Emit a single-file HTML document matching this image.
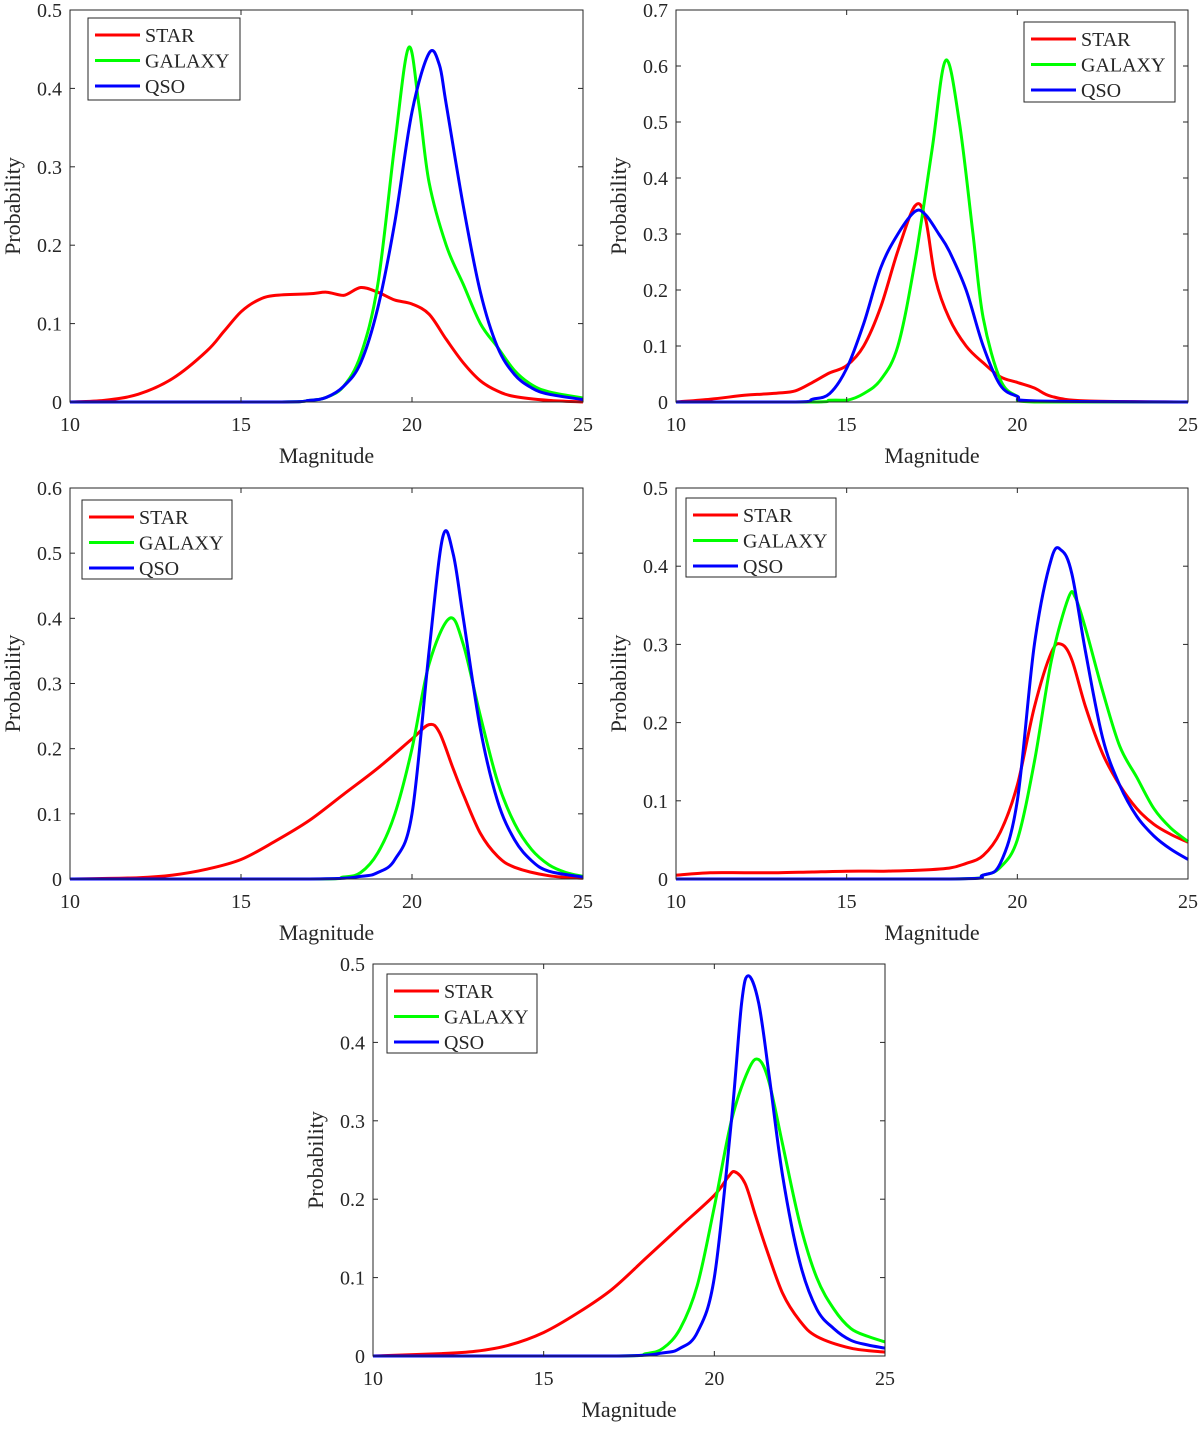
<!DOCTYPE html>
<html><head><meta charset="utf-8"><style>
body{margin:0;background:#fff}
svg text{font-family:"Liberation Serif",serif;fill:#262626}
</style></head><body>
<svg id="fig" width="1200" height="1426" viewBox="0 0 1200 1426" xmlns="http://www.w3.org/2000/svg"></svg>
<script>
// ---- data: magnitude (x) and probability (y) per series per panel ----
const xTicks=[10,15,20,25];
const p1StarX=[10,11,12,13,14,14.5,15,15.5,16,17,17.5,18,18.5,19,19.5,20,20.5,21,21.5,22,22.5,23,24,25];
const p1StarY=[0,0.002,0.01,0.03,0.065,0.09,0.115,0.13,0.136,0.138,0.14,0.136,0.146,0.14,0.13,0.125,0.112,0.08,0.05,0.027,0.014,0.007,0.002,0];
const p1GalX=[10,16,17,17.5,18,18.5,19,19.5,19.9,20.2,20.5,21,21.5,22,22.5,23,23.5,24,25];
const p1GalY=[0,0,0.002,0.006,0.02,0.06,0.15,0.33,0.452,0.38,0.28,0.2,0.15,0.1,0.07,0.04,0.022,0.013,0.005];
const p1QsoX=[10,16,17,17.5,18,18.5,19,19.5,20,20.5,20.8,21,21.5,22,22.5,23,23.5,24,25];
const p1QsoY=[0,0,0.002,0.006,0.02,0.05,0.12,0.23,0.37,0.445,0.43,0.38,0.25,0.14,0.07,0.035,0.018,0.01,0.003];

const p2StarX=[10,11,12,12.5,13,13.5,14,14.5,15,15.5,16,16.5,17,17.3,17.6,18,18.5,19,19.5,20,20.5,21,22,25];
const p2StarY=[0,0.005,0.012,0.014,0.016,0.02,0.035,0.052,0.065,0.1,0.17,0.27,0.35,0.33,0.22,0.15,0.1,0.07,0.045,0.035,0.025,0.01,0.002,0];
const p2GalX=[10,14,14.5,15,15.5,16,16.5,17,17.5,17.9,18.3,18.7,19,19.5,20,20.5,25];
const p2GalY=[0,0,0.003,0.003,0.015,0.04,0.1,0.25,0.45,0.61,0.5,0.3,0.15,0.04,0.01,0,0];
const p2QsoX=[10,13.5,14,14.5,15,15.5,16,16.5,17,17.3,17.7,18,18.5,19,19.5,20,20.5,25];
const p2QsoY=[0,0,0.005,0.015,0.06,0.14,0.24,0.3,0.34,0.335,0.3,0.27,0.2,0.1,0.03,0.01,0.002,0];

const p3StarX=[10,12,13,14,15,16,17,18,19,20,20.5,20.8,21.2,21.5,22,22.5,23,24,25];
const p3StarY=[0,0.002,0.006,0.015,0.03,0.058,0.09,0.13,0.17,0.215,0.237,0.225,0.17,0.13,0.07,0.035,0.018,0.005,0.001];
const p3GalX=[10,17,18,18.5,19,19.5,20,20.5,21.1,21.5,22,22.5,23,23.5,24,24.5,25];
const p3GalY=[0,0,0.003,0.01,0.04,0.1,0.2,0.33,0.4,0.36,0.25,0.15,0.085,0.045,0.022,0.01,0.004];
const p3QsoX=[10,17,18.5,19,19.5,20,20.5,20.9,21.2,21.5,22,22.5,23,23.5,24,25];
const p3QsoY=[0,0,0.004,0.01,0.03,0.1,0.35,0.525,0.5,0.4,0.23,0.12,0.06,0.028,0.012,0.003];

const p4StarX=[10,11,12,13,14,15,16,17,18,18.5,19,19.5,20,20.5,21,21.3,21.6,22,22.5,23,23.5,24,24.5,25];
const p4StarY=[0.005,0.008,0.008,0.008,0.009,0.01,0.01,0.011,0.014,0.02,0.03,0.06,0.12,0.22,0.29,0.3,0.28,0.22,0.16,0.12,0.09,0.07,0.057,0.047];
const p4GalX=[10,18,19,19.5,20,20.5,21,21.5,21.7,22,22.5,23,23.5,24,24.5,25];
const p4GalY=[0,0,0.005,0.015,0.05,0.15,0.28,0.36,0.36,0.32,0.24,0.17,0.13,0.09,0.065,0.048];
const p4QsoX=[10,18,19,19.5,20,20.5,21,21.3,21.6,22,22.5,23,23.5,24,24.5,25];
const p4QsoY=[0,0,0.005,0.02,0.1,0.3,0.41,0.42,0.39,0.29,0.18,0.12,0.08,0.055,0.038,0.025];

const p5StarX=[10,12,13,14,15,16,17,18,19,20,20.4,20.6,20.9,21.2,21.5,22,22.5,23,24,25];
const p5StarY=[0,0.003,0.006,0.014,0.03,0.055,0.085,0.125,0.165,0.205,0.228,0.235,0.22,0.18,0.14,0.08,0.045,0.025,0.01,0.005];
const p5GalX=[10,17,18,18.5,19,19.5,20,20.5,21,21.3,21.6,22,22.5,23,23.5,24,24.5,25];
const p5GalY=[0,0,0.003,0.01,0.035,0.09,0.19,0.3,0.365,0.378,0.35,0.27,0.17,0.1,0.06,0.035,0.025,0.018];
const p5QsoX=[10,17,18.5,19,19.5,20,20.5,20.8,21,21.3,21.6,22,22.5,23,23.5,24,24.5,25];
const p5QsoY=[0,0,0.004,0.01,0.03,0.1,0.3,0.45,0.485,0.45,0.36,0.23,0.12,0.06,0.035,0.02,0.014,0.01];

const seriesNames=["STAR","GALAXY","QSO"];
const seriesColors=["#ff0000","#00ff00","#0000ff"];

const panels=[
 {id:"panel-1",box:[70,10,583,402],yMax:0.5,yStep:0.1,leg:[88,18,152,82],s:[[p1StarX,p1StarY],[p1GalX,p1GalY],[p1QsoX,p1QsoY]]},
 {id:"panel-2",box:[676,10,1188,402],yMax:0.7,yStep:0.1,leg:[1024,22,151,80],s:[[p2StarX,p2StarY],[p2GalX,p2GalY],[p2QsoX,p2QsoY]]},
 {id:"panel-3",box:[70,488,583,879],yMax:0.6,yStep:0.1,leg:[82,500,150,79],s:[[p3StarX,p3StarY],[p3GalX,p3GalY],[p3QsoX,p3QsoY]]},
 {id:"panel-4",box:[676,488,1188,879],yMax:0.5,yStep:0.1,leg:[686,498,150,79],s:[[p4StarX,p4StarY],[p4GalX,p4GalY],[p4QsoX,p4QsoY]]},
 {id:"panel-5",box:[373,964,885,1356],yMax:0.5,yStep:0.1,leg:[387,974,150,79],s:[[p5StarX,p5StarY],[p5GalX,p5GalY],[p5QsoX,p5QsoY]]}
];
const NS="http://www.w3.org/2000/svg";
const svg=document.getElementById("fig");
function mk(tag,attrs,parent){const e=document.createElementNS(NS,tag);for(const k in attrs)e.setAttribute(k,attrs[k]);parent.appendChild(e);return e;}
function smooth(pts){
 let d="M"+pts[0][0].toFixed(1)+","+pts[0][1].toFixed(1);
 for(let i=0;i<pts.length-1;i++){
  const p0=pts[Math.max(0,i-1)],p1=pts[i],p2=pts[i+1],p3=pts[Math.min(pts.length-1,i+2)];
  const t=1/6;
  const c1=[p1[0]+(p2[0]-p0[0])*t,p1[1]+(p2[1]-p0[1])*t];
  const c2=[p2[0]-(p3[0]-p1[0])*t,p2[1]-(p3[1]-p1[1])*t];
  const bot=Math.max(p1[1],p2[1]);
  c1[1]=Math.min(c1[1],bot);c2[1]=Math.min(c2[1],bot);
  d+=" C"+c1[0].toFixed(1)+","+c1[1].toFixed(1)+" "+c2[0].toFixed(1)+","+c2[1].toFixed(1)+" "+p2[0].toFixed(1)+","+p2[1].toFixed(1);
 }
 return d;
}
panels.forEach(P=>{
 const [x0,y0,x1,y1]=P.box;
 const g=mk("g",{},svg);
 
 
 const sx=v=>x0+(v-10)/15*(x1-x0);
 const sy=v=>y1-v/P.yMax*(y1-y0);
 // series
 P.s.forEach((s,i)=>{
  const pts=s[0].map((x,j)=>[sx(x),sy(s[1][j])]);
  const path=mk("path",{d:smooth(pts),fill:"none",stroke:seriesColors[i],"stroke-width":3,"stroke-linejoin":"round"},g);
  
  
 });
 // box
 const box=mk("rect",{x:x0,y:y0,width:x1-x0,height:y1-y0,fill:"none",stroke:"#262626","stroke-width":1},g);
 
 
 // x ticks
 xTicks.forEach(t=>{
  const X=sx(t);
  mk("line",{x1:X,y1:y1,x2:X,y2:y1-5,stroke:"#262626"},g);
  mk("line",{x1:X,y1:y0,x2:X,y2:y0+5,stroke:"#262626"},g);
  const tx=mk("text",{x:X,y:y1+29,"font-size":20,"text-anchor":"middle"},g);
  tx.textContent=t;
  
  
 });
 const n=Math.round(P.yMax/P.yStep);
 for(let k=0;k<=n;k++){
  const v=k*P.yStep,Y=sy(v);
  mk("line",{x1:x0,y1:Y,x2:x0+5,y2:Y,stroke:"#262626"},g);
  mk("line",{x1:x1,y1:Y,x2:x1-5,y2:Y,stroke:"#262626"},g);
  const ty=mk("text",{x:x0-8,y:Y+7,"font-size":20,"text-anchor":"end"},g);
  ty.textContent=k===0?"0":v.toFixed(1);
  
  
 }
 const xl=mk("text",{x:(x0+x1)/2,y:y1+61,"font-size":22,"text-anchor":"middle"},g);
 xl.textContent="Magnitude";
 
 
 const yx=x0-50,yy=(y0+y1)/2;
 const yl=mk("text",{x:yx,y:yy,"font-size":22,"text-anchor":"middle",transform:`rotate(-90 ${yx} ${yy})`},g);
 yl.textContent="Probability";
 
 
 // legend
 const [lx,ly,lw,lh]=P.leg;
 const lg=mk("g",{},g);
 
 
 mk("rect",{x:lx,y:ly,width:lw,height:lh,fill:"#fff",stroke:"#262626","stroke-width":1},lg);
 seriesNames.forEach((nm,i)=>{
  const Y=ly+17+i*25.5;
  const e=mk("g",{},lg);
  
  
  mk("line",{x1:lx+7,y1:Y,x2:lx+52,y2:Y,stroke:seriesColors[i],"stroke-width":3},e);
  const t=mk("text",{x:lx+57,y:Y+7,"font-size":20},e);
  t.textContent=nm;
 });
});
</script>
</body></html>
